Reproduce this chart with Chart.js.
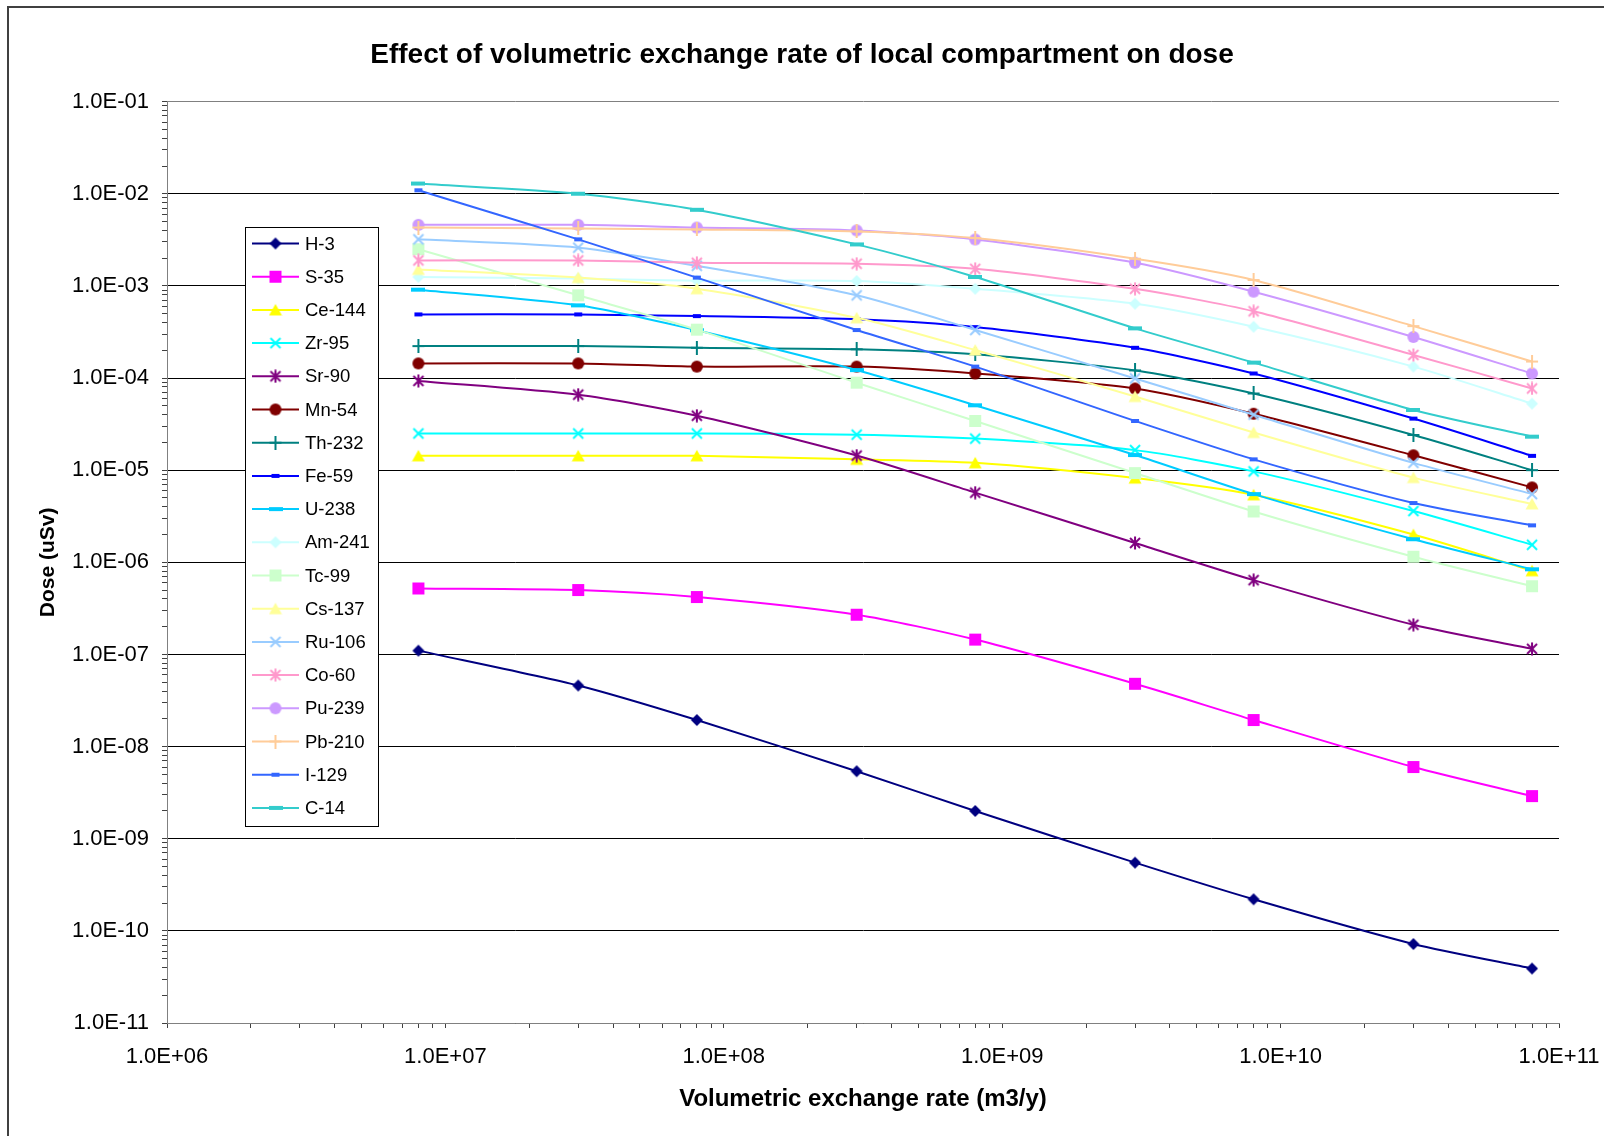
<!DOCTYPE html>
<html>
<head>
<meta charset="utf-8">
<title>Effect of volumetric exchange rate of local compartment on dose</title>
<script src="https://cdn.jsdelivr.net/npm/chart.js@4.4.1/dist/chart.umd.min.js"></script>
<style>
    html, body { margin: 0; padding: 0; background: #fff; overflow: hidden; }
    #frame { position: absolute; left: 7px; top: 6px; width: 1700px; height: 1300px; border: 2px solid #404040; box-sizing: border-box; }
    #wrap { position: absolute; left: 0; top: 0; width: 1604px; height: 1136px; }
</style>
</head>
<body>
<div id="frame"></div>
<div id="wrap"><canvas id="doseChart" width="1604" height="1136"></canvas></div>
<script>
// x values (m3/y)
const exchangeRates = [8e6, 3e7, 8e7, 3e8, 8e8, 3e9, 8e9, 3e10, 8e10];

const nuclides = ['H-3', 'S-35', 'Ce-144', 'Zr-95', 'Sr-90', 'Mn-54', 'Th-232', 'Fe-59', 'U-238',
    'Am-241', 'Tc-99', 'Cs-137', 'Ru-106', 'Co-60', 'Pu-239', 'Pb-210', 'I-129', 'C-14'];

// dose (uSv)
const h3    = [1.1e-7, 4.6e-8, 1.94e-8, 5.4e-9, 2.0e-9, 5.5e-10, 2.2e-10, 7.2e-11, 3.9e-11];
const s35   = [5.2e-7, 5.0e-7, 4.2e-7, 2.7e-7, 1.45e-7, 4.8e-8, 1.94e-8, 6.0e-9, 2.9e-9];
const ce144 = [1.43e-5, 1.43e-5, 1.43e-5, 1.31e-5, 1.2e-5, 8.2e-6, 5.4e-6, 2.0e-6, 8.1e-7];
const zr95  = [2.5e-5, 2.5e-5, 2.5e-5, 2.43e-5, 2.2e-5, 1.65e-5, 9.7e-6, 3.6e-6, 1.55e-6];
const sr90  = [9.3e-5, 6.6e-5, 3.9e-5, 1.44e-5, 5.7e-6, 1.62e-6, 6.4e-7, 2.1e-7, 1.15e-7];
const mn54  = [1.44e-4, 1.44e-4, 1.33e-4, 1.33e-4, 1.12e-4, 7.7e-5, 4.1e-5, 1.45e-5, 6.5e-6];
const th232 = [2.22e-4, 2.22e-4, 2.13e-4, 2.05e-4, 1.81e-4, 1.21e-4, 6.8e-5, 2.41e-5, 1.0e-5];
const fe59  = [4.9e-4, 4.9e-4, 4.7e-4, 4.34e-4, 3.57e-4, 2.13e-4, 1.12e-4, 3.63e-5, 1.43e-5];
const u238  = [9.1e-4, 6.15e-4, 3.3e-4, 1.22e-4, 5.06e-5, 1.46e-5, 5.5e-6, 1.78e-6, 8.4e-7];
const am241 = [1.25e-3, 1.2e-3, 1.14e-3, 1.13e-3, 9.3e-4, 6.4e-4, 3.6e-4, 1.33e-4, 5.27e-5];
const tc99  = [2.5e-3, 7.9e-4, 3.35e-4, 8.9e-5, 3.42e-5, 9.3e-6, 3.56e-6, 1.15e-6, 5.5e-7];
const cs137 = [1.51e-3, 1.23e-3, 9.3e-4, 4.5e-4, 2.01e-4, 6.3e-5, 2.56e-5, 8.3e-6, 4.3e-6];
const ru106 = [3.2e-3, 2.6e-3, 1.65e-3, 7.9e-4, 3.32e-4, 9.9e-5, 4.0e-5, 1.2e-5, 5.5e-6];
const co60  = [1.89e-3, 1.89e-3, 1.78e-3, 1.74e-3, 1.53e-3, 9.3e-4, 5.3e-4, 1.78e-4, 7.7e-5];
const pu239 = [4.6e-3, 4.6e-3, 4.3e-3, 4.0e-3, 3.19e-3, 1.78e-3, 8.65e-4, 2.79e-4, 1.12e-4];
const pb210 = [4.3e-3, 4.2e-3, 4.1e-3, 3.9e-3, 3.3e-3, 1.97e-3, 1.16e-3, 3.66e-4, 1.51e-4];
const i129  = [1.09e-2, 3.2e-3, 1.23e-3, 3.32e-4, 1.33e-4, 3.42e-5, 1.31e-5, 4.4e-6, 2.52e-6];
const c14   = [1.29e-2, 1.0e-2, 6.7e-3, 2.82e-3, 1.25e-3, 3.46e-4, 1.47e-4, 4.5e-5, 2.31e-5];

const seriesValues = [h3, s35, ce144, zr95, sr90, mn54, th232, fe59, u238,
    am241, tc99, cs137, ru106, co60, pu239, pb210, i129, c14];

// axis decades
const xDecades = [6, 11];
const yDecades = [-11, -1];

// Excel-like series styles
const seriesColors = ['#000080', '#FF00FF', '#FFFF00', '#00FFFF', '#800080', '#800000', '#008080', '#0000FF', '#00CCFF',
    '#CCFFFF', '#CCFFCC', '#FFFF99', '#99CCFF', '#FF99CC', '#CC99FF', '#FFCC99', '#3366FF', '#33CCCC'];
const seriesMarkers = ['diamond', 'square', 'triangle', 'x', 'asterisk', 'circle', 'plus', 'shortbar', 'longbar',
    'diamond', 'square', 'triangle', 'x', 'asterisk', 'circle', 'plus', 'shortbar', 'longbar'];

Chart.defaults.font.family = '"Liberation Sans", Arial, sans-serif';
Chart.defaults.color = '#000';

function makeMarker(shape, color) {
    const c = document.createElement('canvas');
    c.width = 14;
    c.height = 14;
    const g = c.getContext('2d');
    g.fillStyle = color;
    g.strokeStyle = color;
    g.lineWidth = 2;
    const line = (x0, y0, x1, y1) => { g.beginPath(); g.moveTo(x0, y0); g.lineTo(x1, y1); g.stroke(); };
    switch (shape) {
        case 'diamond':
            g.beginPath(); g.moveTo(7, 1); g.lineTo(13, 7); g.lineTo(7, 13); g.lineTo(1, 7); g.closePath(); g.fill();
            break;
        case 'square':
            g.fillRect(1, 1, 12, 12);
            break;
        case 'triangle':
            g.beginPath(); g.moveTo(7, 1); g.lineTo(13.5, 12.5); g.lineTo(0.5, 12.5); g.closePath(); g.fill();
            break;
        case 'x':
            line(2, 2, 12, 12); line(12, 2, 2, 12);
            break;
        case 'asterisk':
            line(2, 2, 12, 12); line(12, 2, 2, 12); line(7, 0.5, 7, 13.5);
            break;
        case 'circle':
            g.beginPath(); g.arc(7, 7, 6, 0, Math.PI * 2); g.fill();
            break;
        case 'plus':
            line(7, 0, 7, 14); line(1, 7, 13, 7);
            break;
        case 'shortbar':
            g.fillRect(3, 5, 8, 4);
            break;
        case 'longbar':
            g.fillRect(0, 5, 14, 4);
            break;
    }
    return c;
}

function logTicks(from, to) {
    const ticks = [];
    for (let e = from; e < to; e++) {
        for (let m = 1; m <= 9; m++) ticks.push({ value: Number(m + 'e' + e) });
    }
    ticks.push({ value: Number('1e' + to) });
    return ticks;
}

function isDecade(v) {
    const l = Math.log10(v);
    return Math.abs(l - Math.round(l)) < 1e-9;
}

function sci(v) {
    const e = Math.round(Math.log10(v));
    return '1.0E' + (e < 0 ? '-' : '+') + String(Math.abs(e)).padStart(2, '0');
}

const markers = seriesColors.map((c, i) => makeMarker(seriesMarkers[i], c));

const datasets = nuclides.map((name, i) => ({
    label: name,
    data: exchangeRates.map((x, j) => ({ x: x, y: seriesValues[i][j] })),
    borderColor: seriesColors[i],
    backgroundColor: seriesColors[i],
    borderWidth: 2,
    pointStyle: markers[i],
    pointRadius: 6,
    tension: 0.25,
    order: nuclides.length - i
}));

// legend box drawn inside the plot, Excel style
const insideLegend = {
    id: 'insideLegend',
    afterDatasetsDraw(chart) {
        const ctx = chart.ctx;
        const box = { left: 245.5, top: 227.5, width: 133, height: 599 };
        const rowTop = 243.5, rowStep = 33.2;
        ctx.save();
        ctx.fillStyle = '#fff';
        ctx.fillRect(box.left, box.top, box.width, box.height);
        ctx.strokeStyle = '#000';
        ctx.lineWidth = 1;
        ctx.strokeRect(box.left, box.top, box.width, box.height);
        ctx.font = '18.5px "Liberation Sans", Arial, sans-serif';
        ctx.textBaseline = 'middle';
        chart.data.datasets.forEach((ds, i) => {
            const y = rowTop + i * rowStep;
            ctx.strokeStyle = ds.borderColor;
            ctx.lineWidth = 2;
            ctx.beginPath();
            ctx.moveTo(252, y);
            ctx.lineTo(299, y);
            ctx.stroke();
            ctx.drawImage(ds.pointStyle, 275.5 - 7, y - 7);
            ctx.fillStyle = '#000';
            ctx.fillText(ds.label, 305, y + 1);
        });
        ctx.restore();
    }
};

new Chart(document.getElementById('doseChart'), {
    type: 'line',
    data: { datasets: datasets },
    plugins: [insideLegend],
    options: {
        responsive: false,
        animation: false,
        layout: { padding: { left: 0, right: 0, top: 0, bottom: 0 } },
        plugins: {
            legend: { display: false },
            tooltip: { enabled: false },
            title: {
                display: true,
                text: 'Effect of volumetric exchange rate of local compartment on dose',
                font: { size: 28, weight: 'bold' },
                color: '#000',
                padding: { top: 38, bottom: 30 }
            }
        },
        scales: {
            x: {
                type: 'logarithmic',
                min: 1e6,
                max: 1e11,
                afterBuildTicks: (s) => { s.ticks = logTicks(xDecades[0], xDecades[1]); },
                afterFit: (s) => {
                    s.height = 113;
                    s.paddingLeft = 0;
                    s.paddingRight = 45;
                },
                border: { color: '#808080', width: 1 },
                grid: { drawOnChartArea: false, drawTicks: true, tickLength: 5, tickColor: '#404040' },
                ticks: {
                    autoSkip: false,
                    maxRotation: 0,
                    padding: 16,
                    color: '#000',
                    font: { size: 22 },
                    callback: (v) => isDecade(v) ? sci(v) : ''
                },
                title: {
                    display: true,
                    text: 'Volumetric exchange rate (m3/y)',
                    font: { size: 24, weight: 'bold' },
                    color: '#000',
                    padding: { top: 0, bottom: 22 }
                }
            },
            y: {
                type: 'logarithmic',
                min: 1e-11,
                max: 1e-1,
                afterBuildTicks: (s) => { s.ticks = logTicks(yDecades[0], yDecades[1]); },
                afterFit: (s) => { s.width = 167; },
                border: { color: '#808080', width: 1 },
                grid: {
                    color: (ctx) => {
                        if (!ctx.tick || !isDecade(ctx.tick.value)) return 'rgba(0,0,0,0)';
                        return ctx.tick.value >= 0.1 ? '#808080' : '#000';
                    },
                    tickColor: '#404040',
                    tickLength: 5,
                    lineWidth: 1
                },
                ticks: {
                    autoSkip: false,
                    padding: 13,
                    color: '#000',
                    font: { size: 22 },
                    callback: (v) => isDecade(v) ? sci(v) : ''
                },
                title: {
                    display: true,
                    text: 'Dose (uSv)',
                    font: { size: 21, weight: 'bold' },
                    color: '#000',
                    padding: { top: 35.5, bottom: 0 }
                }
            }
        }
    }
});
</script>
</body>
</html>
